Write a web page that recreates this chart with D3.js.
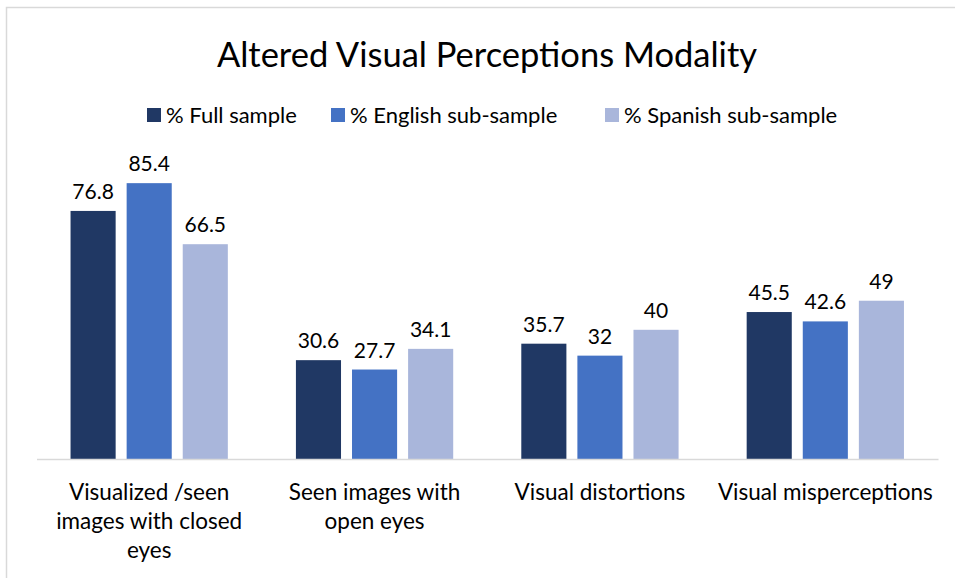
<!DOCTYPE html>
<html>
<head>
<meta charset="utf-8">
<script src="https://cdn.jsdelivr.net/npm/d3@7"></script>
<style>
  body { margin: 0; background: #fff; }
  svg text { font-family: Lato, "Open Sans", sans-serif; fill: #000; }
</style>
</head>
<body>
<div id="chart"></div>
<script>
// ---- Data ----
const categories = [
  ["Visualized /seen", "images with closed", "eyes"],
  ["Seen images with", "open eyes"],
  ["Visual distortions"],
  ["Visual misperceptions"]
];
const seriesNames = ["% Full sample", "% English sub-sample", "% Spanish sub-sample"];
const fullSample = [76.8, 30.6, 35.7, 45.5];
const englishSample = [85.4, 27.7, 32, 42.6];
const spanishSample = [66.5, 34.1, 40, 49];
const seriesColors = ["#203864", "#4472c4", "#a9b6db"];

const seriesValues = [fullSample, englishSample, spanishSample];

// ---- Layout ----
const W = 955, H = 578;
const plot = { left: 36.5, right: 938, top: 136, bottom: 459 };

const svg = d3.select("#chart").append("svg")
  .attr("width", W)
  .attr("height", H);

// chart frame (only top/left visible in the crop)
svg.append("rect")
  .attr("x", 6.5).attr("y", 7.5)
  .attr("width", W + 20).attr("height", H + 20)
  .attr("fill", "none")
  .attr("stroke", "#d9d9d9")
  .attr("stroke-width", 1.5);

svg.append("text")
  .attr("x", 487).attr("y", 67)
  .attr("text-anchor", "middle")
  .style("font-size", "34.5px")
  .text("Altered Visual Perceptions Modality");

// ---- Scales ----
const catIdx = d3.range(categories.length);
const x0 = d3.scaleBand()
  .domain(catIdx)
  .range([plot.left, plot.right]);

const x1 = d3.scaleBand()
  .domain(d3.range(seriesNames.length))
  .range([0, x0.bandwidth()])
  .paddingInner(0.196)
  .paddingOuter(0.607);

const y = d3.scaleLinear()
  .domain([0, 100])
  .range([plot.bottom, plot.top]);

// ---- Bars ----
const groups = svg.selectAll(".group")
  .data(catIdx)
  .join("g")
  .attr("class", "group")
  .attr("transform", i => `translate(${x0(i)},0)`);

groups.selectAll("rect")
  .data(i => seriesValues.map((vals, s) => ({ s, v: vals[i] })))
  .join("rect")
  .attr("x", d => x1(d.s))
  .attr("width", x1.bandwidth())
  .attr("y", d => y(d.v))
  .attr("height", d => y(0) - y(d.v))
  .attr("fill", d => seriesColors[d.s]);

groups.selectAll(".val")
  .data(i => seriesValues.map((vals, s) => ({ s, v: vals[i] })))
  .join("text")
  .attr("class", "val")
  .attr("x", d => x1(d.s) + x1.bandwidth() / 2)
  .attr("y", d => y(d.v) - 12)
  .attr("text-anchor", "middle")
  .style("font-size", "21px")
  .text(d => d.v);

// ---- Axis ----
const xAxis = d3.axisBottom(x0).tickSize(0).tickFormat("");
const axisG = svg.append("g")
  .attr("transform", `translate(0,${plot.bottom})`)
  .call(xAxis);
axisG.select(".domain")
  .attr("stroke", "#d9d9d9")
  .attr("stroke-width", 1.5);

// category labels
svg.selectAll(".cat")
  .data(catIdx)
  .join("text")
  .attr("class", "cat")
  .attr("text-anchor", "middle")
  .style("font-size", "22.5px")
  .each(function(i) {
    const t = d3.select(this);
    categories[i].forEach((line, k) => {
      t.append("tspan")
        .attr("x", x0(i) + x0.bandwidth() / 2)
        .attr("y", 500 + k * 29)
        .text(line);
    });
  });

// ---- Legend ----
const legendX = [147, 331, 605];
const legend = svg.selectAll(".leg")
  .data(seriesNames)
  .join("g")
  .attr("class", "leg")
  .attr("transform", (d, i) => `translate(${legendX[i]},108)`);

legend.append("rect")
  .attr("width", 14).attr("height", 14)
  .attr("fill", (d, i) => seriesColors[i]);

legend.append("text")
  .attr("x", 19).attr("y", 15)
  .style("font-size", "22px")
  .text(d => d);
</script>
</body>
</html>
